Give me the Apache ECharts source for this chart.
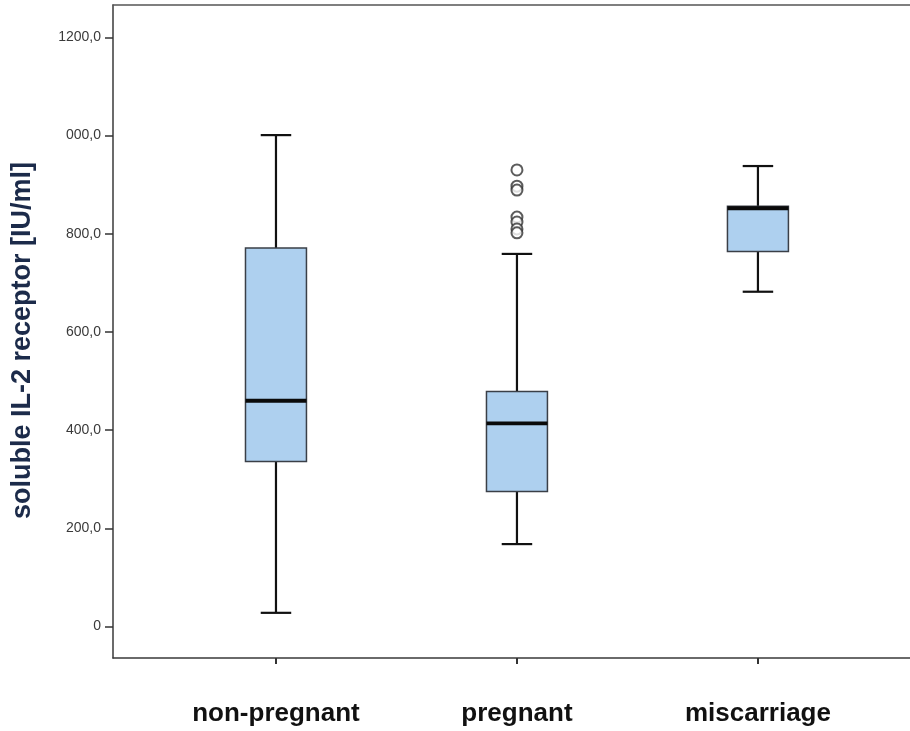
<!DOCTYPE html>
<html><head><meta charset="utf-8">
<script src="https://cdn.jsdelivr.net/npm/echarts@6/dist/echarts.min.js"></script>
<style>html,body{margin:0;padding:0;background:#fff}#c{width:910px;height:731px}</style>
</head><body><div id="c"></div>
<script>
// Data
const categories = ['non-pregnant', 'pregnant', 'miscarriage'];
const whiskerLow  = [28, 168, 682];
const q1          = [336, 275, 764];
const median      = [460, 414, 852];
const q3          = [771, 479, 856];
const whiskerHigh = [1001, 759, 938];
// outliers: category index (0-based) and value
const outliersCategory = [1, 1, 1, 1, 1, 1, 1];
const outliersValue    = [930, 897, 889, 834, 824, 810, 802];
const yTickValues = [0, 200, 400, 600, 800, 1000, 1200];
const yTickLabels = ['0', '200,0', '400,0', '600,0', '800,0', '000,0', '1200,0'];

const boxData = categories.map((c, i) => [i + 1, whiskerLow[i], q1[i], median[i], q3[i], whiskerHigh[i]]);
const outlierData = outliersValue.map((v, i) => [outliersCategory[i] + 1, v]);

const chart = echarts.init(document.getElementById('c'), null, {renderer: 'canvas'});
const BOX_FRAC = 0.253;
const FONT = 'Liberation Sans, Arial, sans-serif';

function renderBox(params, api) {
  const x = api.value(0);
  const pLow = api.coord([x, api.value(1)]);
  const pQ1 = api.coord([x, api.value(2)]);
  const pMed = api.coord([x, api.value(3)]);
  const pQ3 = api.coord([x, api.value(4)]);
  const pHigh = api.coord([x, api.value(5)]);
  const bw = api.size([1, 0])[0] * BOX_FRAC;
  const cx = pMed[0];
  const lineStyle = {stroke: '#111', lineWidth: 2.2, fill: null};
  return {
    type: 'group',
    children: [
      {type: 'line', shape: {x1: cx, y1: pHigh[1], x2: cx, y2: pQ3[1]}, style: lineStyle},
      {type: 'line', shape: {x1: cx, y1: pLow[1], x2: cx, y2: pQ1[1]}, style: lineStyle},
      {type: 'line', shape: {x1: cx - bw / 4, y1: pHigh[1], x2: cx + bw / 4, y2: pHigh[1]}, style: lineStyle},
      {type: 'line', shape: {x1: cx - bw / 4, y1: pLow[1], x2: cx + bw / 4, y2: pLow[1]}, style: lineStyle},
      {type: 'rect', shape: {x: cx - bw / 2, y: pQ3[1], width: bw, height: pQ1[1] - pQ3[1]},
        style: {fill: '#aed0ef', stroke: '#3a3f47', lineWidth: 1.5}},
      {type: 'line', shape: {x1: cx - bw / 2, y1: pMed[1], x2: cx + bw / 2, y2: pMed[1]},
        style: {stroke: '#0a0a0a', lineWidth: 3.8}}
    ]
  };
}

const X_MIN = 0.3237, X_MAX = 3.631;
const option = {
  animation: false,
  backgroundColor: '#fff',
  grid: {left: 113, top: 5, bottom: 73, right: 0, containLabel: false},
  xAxis: [{
    type: 'value', min: X_MIN, max: X_MAX, position: 'bottom',
    splitLine: {show: false},
    axisLine: {show: true, onZero: false, lineStyle: {color: '#3a3a3a', width: 1.5}},
    axisTick: {show: true, customValues: [1, 2, 3], length: 6, lineStyle: {color: '#333', width: 2}},
    axisLabel: {
      show: true, customValues: [1, 2, 3], margin: 43,
      formatter: v => categories[Math.round(v) - 1] || '',
      fontFamily: FONT, fontWeight: 'bold', fontSize: 26, color: '#111'
    }
  }, {
    type: 'value', min: X_MIN, max: X_MAX, position: 'top',
    splitLine: {show: false},
    axisLine: {show: true, onZero: false, lineStyle: {color: '#555', width: 1.5}},
    axisTick: {show: false}, axisLabel: {show: false}
  }],
  yAxis: {
    type: 'value', min: -64, max: 1266,
    splitLine: {show: false},
    axisLine: {show: true, onZero: false, lineStyle: {color: '#3a3a3a', width: 1.5}},
    axisTick: {show: true, customValues: yTickValues, length: 8, lineStyle: {color: '#333', width: 1.5}},
    axisLabel: {
      show: true, customValues: yTickValues, margin: 12,
      formatter: v => yTickLabels[yTickValues.indexOf(v)] ?? '',
      fontFamily: FONT, fontSize: 14, color: '#3a3a3a'
    },
    name: 'soluble IL-2 receptor [IU/ml]',
    nameLocation: 'middle', nameGap: 77, nameRotate: 90,
    nameTextStyle: {fontFamily: FONT, fontWeight: 'bold', fontSize: 27, color: '#1c2b4a', padding: [0, 18, 0, 0]}
  },
  series: [{
    type: 'custom', renderItem: renderBox, data: boxData,
    encode: {x: 0, y: [1, 2, 3, 4, 5]}, clip: false
  }, {
    type: 'scatter', data: outlierData, symbol: 'emptyCircle', symbolSize: 11,
    itemStyle: {color: '#333', borderColor: '#333', borderWidth: 1.3}, z: 5
  }]
};
chart.setOption(option);
</script></body></html>
